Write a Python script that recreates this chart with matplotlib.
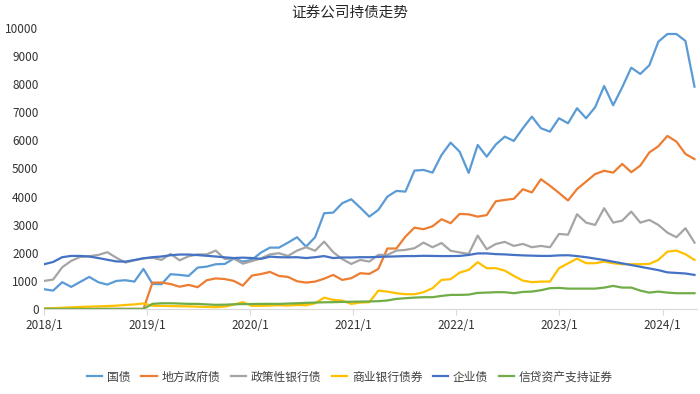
import numpy as np
import matplotlib
matplotlib.use("Agg")
import matplotlib.pyplot as plt

plt.rcParams['font.family'] = ['Noto Sans CJK SC', 'DejaVu Sans']

# 数据（从图上读取，单位：亿元）
year_labels = ['2018/1', '2019/1', '2020/1', '2021/1', '2022/1', '2023/1', '2024/1']

guozhai = [700, 651, 950, 783, 961, 1139, 950, 865, 996, 1020, 972, 1423,
           890, 879, 1235, 1210, 1174, 1470, 1505, 1590, 1601, 1790, 1683, 1744,
           2004, 2181, 2181, 2359, 2551, 2217, 2551, 3405, 3427, 3761, 3904, 3605,
           3285, 3523, 3996, 4199, 4174, 4922, 4947, 4851, 5480, 5918, 5598, 4840,
           5836, 5420, 5850, 6132, 5979, 6431, 6843, 6431, 6310, 6786, 6608, 7142,
           6786, 7178, 7936, 7249, 7890, 8587, 8363, 8672, 9512, 9786, 9786, 9537,
           7911]

difang = [0, 0, 0, 0, 0, 0, 0, 0, 0, 0, 0, 0,
          936, 936, 885, 790, 854, 772, 1020, 1085, 1062, 996, 829, 1185,
          1240, 1316, 1174, 1138, 984, 936, 972, 1075, 1210, 1032, 1092, 1270,
          1246, 1423, 2150, 2150, 2573, 2893, 2836, 2940, 3192, 3050, 3381, 3365,
          3285, 3340, 3830, 3879, 3920, 4260, 4146, 4616, 4385, 4128, 3860, 4265,
          4530, 4800, 4916, 4851, 5160, 4865, 5100, 5570, 5790, 6157, 5954, 5516,
          5333]

zhengce = [996, 1045, 1480, 1710, 1850, 1875, 1922, 2018, 1820, 1650, 1730, 1804,
           1822, 1744, 1957, 1730, 1873, 1940, 1940, 2075, 1780, 1790, 1610, 1700,
           1800, 1940, 1982, 1886, 2075, 2195, 2070, 2395, 2020, 1774, 1600, 1744,
           1683, 1922, 1922, 2075, 2100, 2160, 2359, 2195, 2345, 2070, 2010, 1957,
           2609, 2124, 2310, 2385, 2242, 2313, 2195, 2242, 2195, 2669, 2640, 3370,
           3071, 2989, 3584, 3071, 3142, 3463, 3071, 3167, 2989, 2715, 2551, 2872,
           2359]

shangye = [25, 25, 40, 55, 70, 80, 90, 100, 115, 140, 160, 195,
           110, 107, 100, 95, 90, 80, 70, 60, 82, 150, 240, 110,
           110, 120, 130, 120, 140, 130, 200, 400, 320, 296, 178, 225,
           237, 650, 616, 558, 523, 523, 594, 737, 1032, 1057, 1292, 1388,
           1661, 1448, 1448, 1363, 1174, 1007, 950, 972, 972, 1448, 1620, 1790,
           1626, 1626, 1683, 1626, 1590, 1590, 1590, 1601, 1744, 2039, 2075, 1947,
           1744]

qiye = [1590, 1670, 1840, 1886, 1886, 1865, 1810, 1750, 1690, 1683, 1740, 1800,
        1840, 1865, 1910, 1935, 1935, 1915, 1890, 1865, 1835, 1810, 1825, 1810,
        1780, 1860, 1840, 1835, 1840, 1810, 1840, 1880, 1810, 1830, 1830, 1840,
        1840, 1850, 1860, 1870, 1880, 1880, 1890, 1885, 1880, 1880, 1885, 1920,
        1975, 1975, 1950, 1940, 1920, 1905, 1895, 1886, 1886, 1905, 1910, 1880,
        1840, 1790, 1740, 1680, 1620, 1560, 1500, 1440, 1380, 1300, 1280, 1260,
        1210]

xindai = [0, 0, 0, 0, 0, 0, 0, 0, 0, 0, 0, 0,
          180, 200, 200, 190, 180, 178, 160, 145, 150, 165, 170, 175,
          178, 180, 178, 190, 200, 215, 225, 235, 240, 249, 255, 260,
          265, 274, 300, 356, 380, 402, 416, 416, 463, 498, 498, 509,
          569, 580, 594, 594, 558, 605, 616, 665, 737, 747, 722, 722,
          722, 722, 758, 818, 758, 758, 651, 580, 616, 580, 558, 558,
          558]

names = ['国债', '地方政府债', '政策性银行债', '商业银行债券', '企业债', '信贷资产支持证券']
colors = ['#5B9BD5', '#ED7D31', '#A5A5A5', '#FFC000', '#4472C4', '#70AD47']
series = [guozhai, difang, zhengce, shangye, qiye, xindai]

x = np.arange(len(guozhai))

fig = plt.figure(figsize=(7, 3.94), dpi=100)
ax = fig.add_axes([0.063, 0.216, 0.933, 0.713])

for name, vals, c in zip(names, series, colors):
    ax.plot(x, vals, color=c, lw=1.6, label=name, solid_joinstyle='round')

ax.set_ylim(0, 10000)
ax.set_yticks(np.arange(0, 10001, 1000))
ax.set_xlim(0, 72.3)
# 年度刻度（约每 11.4 个点一个）
ax.set_xticks(np.arange(len(year_labels)) * 11.41)
ax.set_xticklabels(year_labels)

for s in ['top', 'right', 'left']:
    ax.spines[s].set_visible(False)
ax.spines['bottom'].set_color('#D9D9D9')
ax.tick_params(axis='y', length=0, labelsize=8.5, colors='#333333', pad=4)
ax.tick_params(axis='x', length=4, color='#D9D9D9', labelsize=8.5, labelcolor='#333333', pad=3)

fig.suptitle('证券公司持债走势', x=0.5, y=0.985, fontsize=10.5, color='#262626')

fig.legend(loc='center', bbox_to_anchor=(0.5, 0.043), ncol=6, frameon=False,
           fontsize=8.5, handlelength=1.3, handletextpad=0.4, columnspacing=0.9,
           labelcolor='#404040')

fig.savefig('out.png', dpi=100)
